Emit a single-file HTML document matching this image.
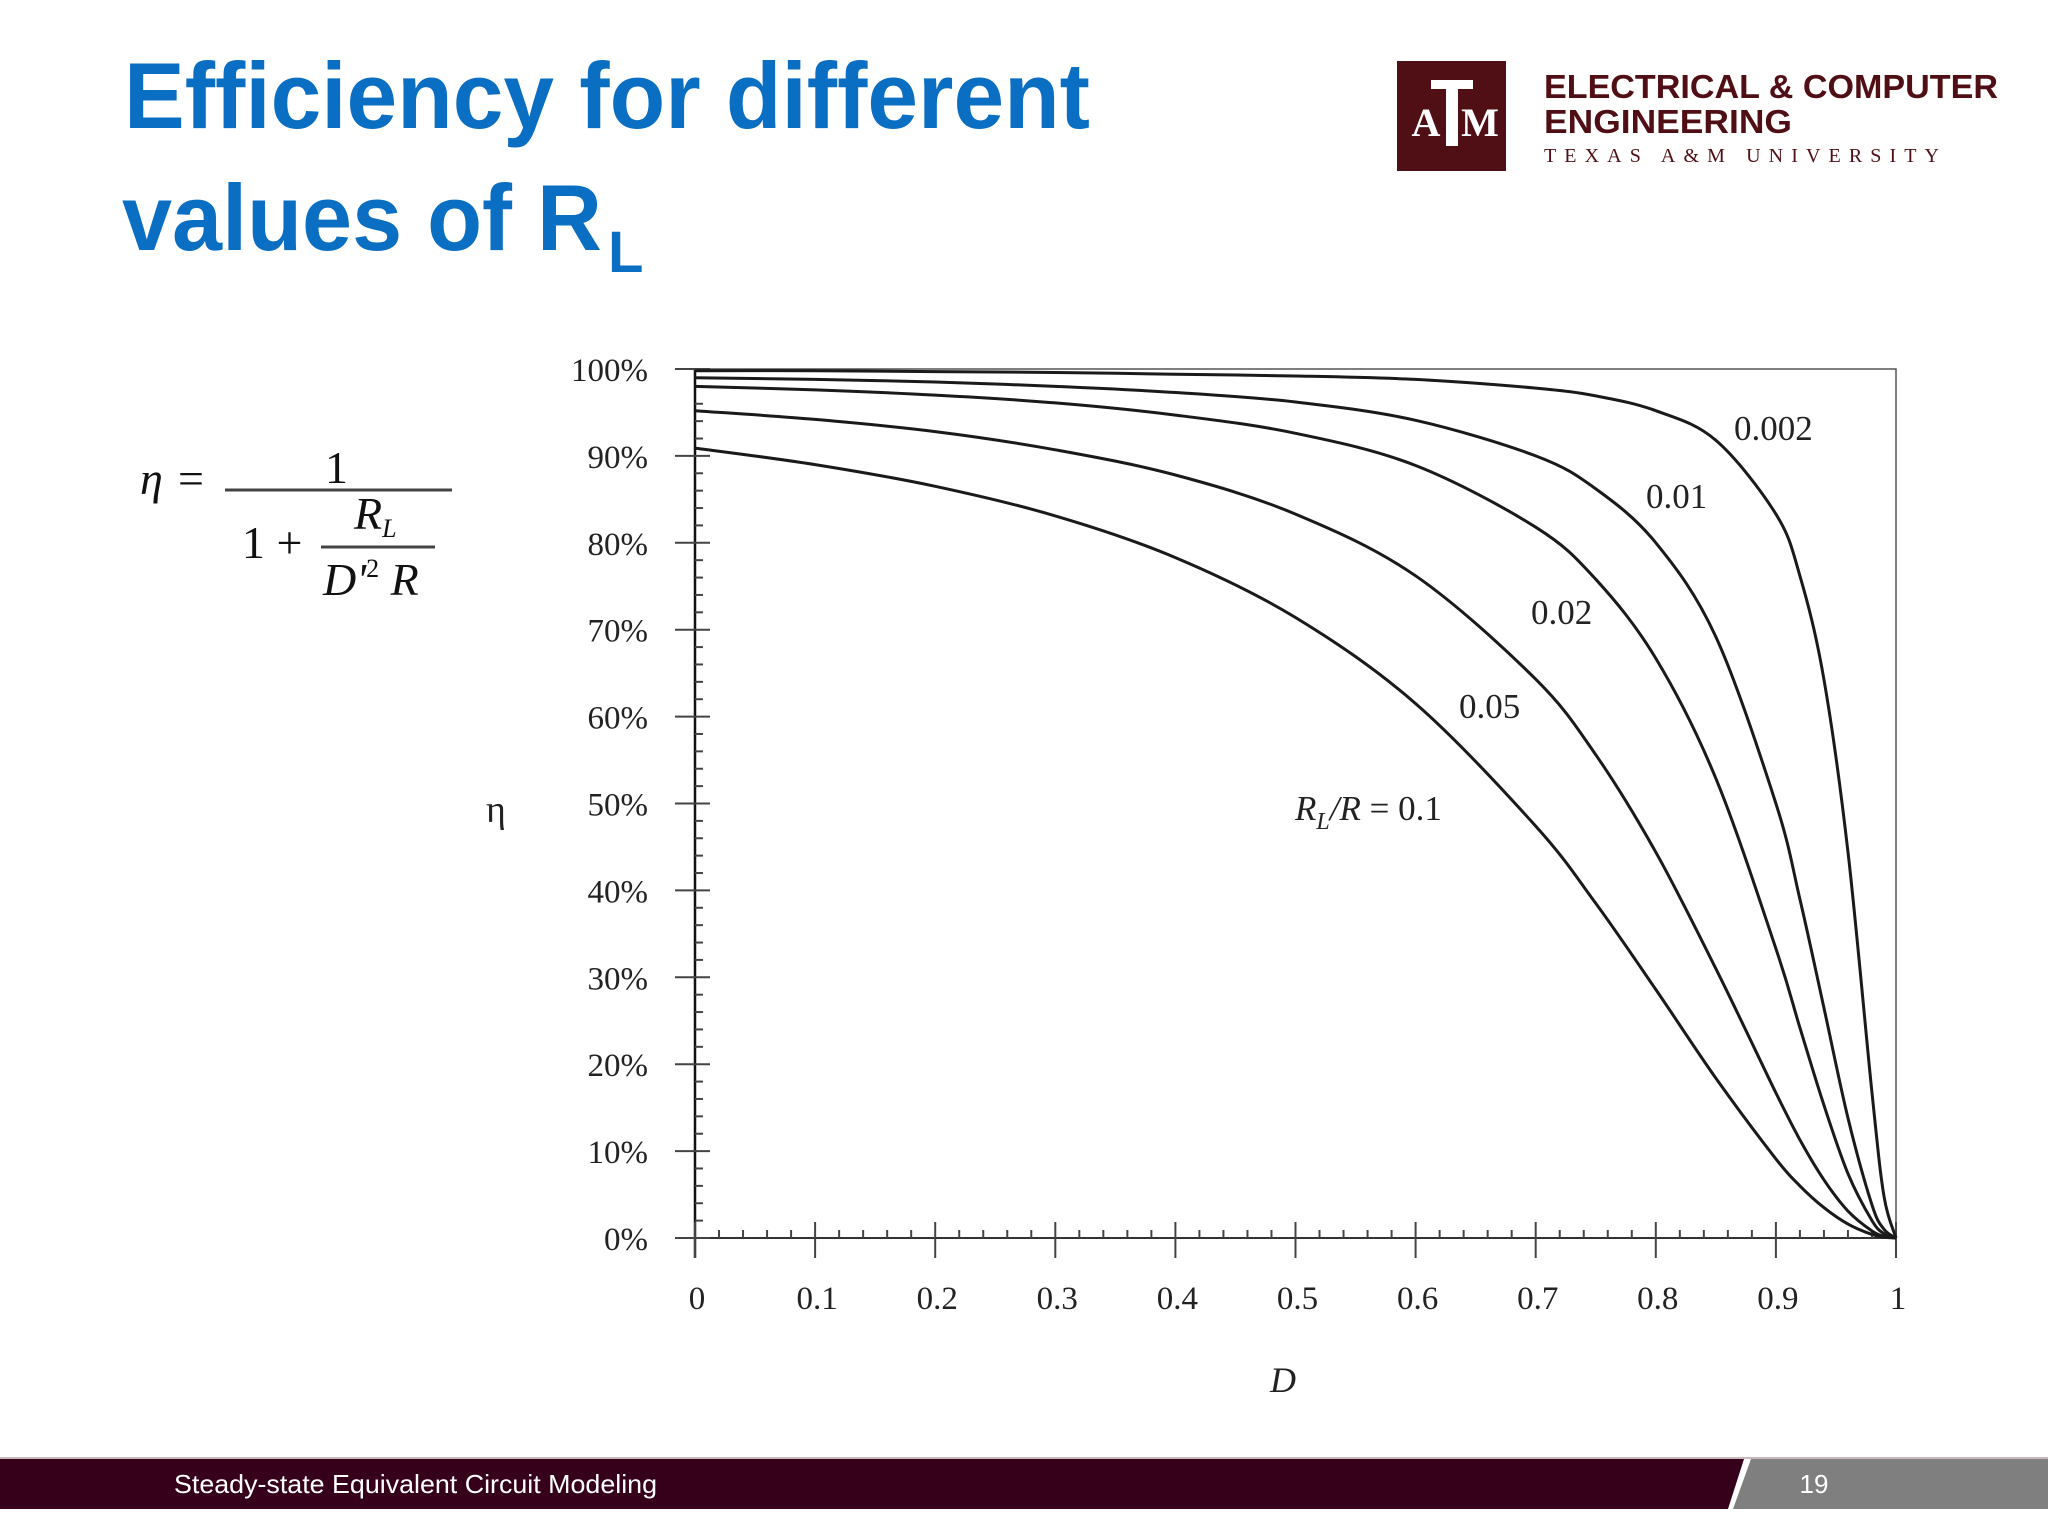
<!DOCTYPE html>
<html><head><meta charset="utf-8"><style>
html,body{margin:0;padding:0;background:#fff;}
svg{display:block;}
</style></head><body>
<svg width="2048" height="1536" viewBox="0 0 2048 1536" xmlns="http://www.w3.org/2000/svg">
<rect x="0" y="0" width="2048" height="1536" fill="#ffffff"/>
<g fill="#0a6fc2" font-family="Liberation Sans, sans-serif" font-weight="bold">
<text x="124" y="128" font-size="94" textLength="966" lengthAdjust="spacingAndGlyphs">Efficiency for different</text>
<text x="122" y="250" font-size="94" textLength="480" lengthAdjust="spacingAndGlyphs">values of R</text>
<text x="608" y="272" font-size="58">L</text>
</g>
<g>
<rect x="1397" y="61" width="109" height="110" fill="#500f15"/>
<rect x="1431" y="80" width="42" height="9" fill="#fff"/>
<rect x="1446" y="80" width="12" height="66" fill="#fff"/>
<text x="1426" y="136" font-family="Liberation Serif, serif" font-weight="bold" font-size="40" fill="#fff" text-anchor="middle">A</text>
<text x="1480" y="136" font-family="Liberation Serif, serif" font-weight="bold" font-size="40" fill="#fff" text-anchor="middle">M</text>
<g font-family="Liberation Sans, sans-serif" font-weight="bold" fill="#500f15">
<text x="1544" y="98" font-size="33" textLength="454" lengthAdjust="spacingAndGlyphs">ELECTRICAL &amp; COMPUTER</text>
<text x="1544" y="133" font-size="33" textLength="248" lengthAdjust="spacingAndGlyphs">ENGINEERING</text>
</g>
<text x="1544" y="162" font-family="Liberation Serif, serif" font-size="20" fill="#500f15" textLength="395" lengthAdjust="spacing">TEXAS A&amp;M UNIVERSITY</text>
</g>
<g font-family="Liberation Serif, serif" fill="#111" font-size="46">
<text x="140" y="494" font-style="italic">η</text>
<text x="178" y="494">=</text>
<line x1="225" y1="490" x2="452" y2="490" stroke="#444" stroke-width="3"/>
<text x="325" y="483">1</text>
<text x="242" y="558">1 +</text>
<text x="354" y="529" font-style="italic">R<tspan font-size="26" dy="8">L</tspan></text>
<line x1="321" y1="547" x2="435" y2="547" stroke="#444" stroke-width="3"/>
<text x="323" y="595" font-style="italic">D'<tspan font-style="normal" font-size="26" dy="-18">2</tspan><tspan dy="18"> R</tspan></text>
</g>
<g id="chart" font-family="Liberation Serif, serif" fill="#222"></g>
<g>
<rect x="0" y="1457" width="2048" height="2" fill="#c8b8bc"/>
<polygon points="0,1459 1744,1459 1728,1509 0,1509" fill="#36001a"/>
<polygon points="1751,1459 2048,1459 2048,1509 1733,1509" fill="#7f7f7f"/>
<text x="174" y="1493" font-family="Liberation Sans, sans-serif" font-size="26" fill="#fff" textLength="483" lengthAdjust="spacingAndGlyphs">Steady-state Equivalent Circuit Modeling</text>
<text x="1814" y="1493" font-family="Liberation Sans, sans-serif" font-size="26" fill="#fff" text-anchor="middle">19</text>
</g>
</svg>
<script>
const dValues = [0,0.1,0.2,0.3,0.4,0.5,0.6,0.7,0.75,0.8,0.85,0.9,0.92,0.94,0.96,0.98,0.99,1];
const seriesR01   = [90.9,89.0,86.5,83.1,78.3,71.4,61.5,47.4,38.5,28.6,18.4,9.1,6.0,3.5,1.6,0.4,0.1,0];
const seriesR005  = [95.2,94.2,92.8,90.7,87.8,83.3,76.2,64.3,55.6,44.4,31.0,16.7,11.3,6.7,3.1,0.8,0.2,0];
const seriesR002  = [98.0,97.6,97.0,96.1,94.7,92.6,88.9,81.8,75.8,66.7,52.9,33.3,24.2,15.3,7.4,2.0,0.5,0];
const seriesR001  = [99.0,98.8,98.5,98.0,97.3,96.2,94.1,90.0,86.2,80.0,69.2,50.0,39.0,26.5,13.8,3.8,1.0,0];
const seriesR0002 = [99.8,99.8,99.7,99.6,99.4,99.2,98.8,97.8,96.9,95.2,91.8,83.3,76.2,64.3,44.4,16.7,4.8,0];
const yTickLabels = ["0%","10%","20%","30%","40%","50%","60%","70%","80%","90%","100%"];
const xTickLabels = ["0","0.1","0.2","0.3","0.4","0.5","0.6","0.7","0.8","0.9","1"];

const NS="http://www.w3.org/2000/svg";
const g=document.getElementById('chart');
const X0=695,X1=1896,Y0=1238,Y1=369;
const xs=d=>X0+(X1-X0)*d;
const ys=v=>Y0-(Y0-Y1)*v/100;
function mk(tag,attrs,parent){const e=document.createElementNS(NS,tag);for(const k in attrs)e.setAttribute(k,attrs[k]);(parent||g).appendChild(e);return e;}

const frame=mk('rect',{x:X0,y:Y1,width:X1-X0,height:Y0-Y1,fill:'none',stroke:'#555','stroke-width':1.5});


const yAxis=mk('line',{x1:X0,y1:Y1,x2:X0,y2:Y0+20,stroke:'#111','stroke-width':2.5});


const xAxis=mk('line',{x1:X0-20,y1:Y0,x2:X1,y2:Y0,stroke:'#333','stroke-width':2});



for(let i=0;i<yTickLabels.length;i++){
  const v=i*10,y=ys(v);
  const t=mk('line',{x1:X0-20,y1:y,x2:X0+15,y2:y,stroke:'#444','stroke-width':2});
  
  
  const l=mk('text',{x:648,y:y+12,'font-size':33,'text-anchor':'end'});
  l.textContent=yTickLabels[i];
  
  
  if(i<yTickLabels.length-1){for(let k=1;k<5;k++){const yy=ys(v+k*2);
    const m=mk('line',{x1:X0,y1:yy,x2:X0+8,y2:yy,stroke:'#444','stroke-width':2});
    
    }}
}
for(let i=0;i<xTickLabels.length;i++){
  const d=i/10,x=xs(d);
  const t=mk('line',{x1:x,y1:Y0-16,x2:x,y2:Y0+20,stroke:'#444','stroke-width':2});
  
  
  const l=mk('text',{x:x+2,y:1309,'font-size':33,'text-anchor':'middle'});
  l.textContent=xTickLabels[i];
  
  
  if(i<xTickLabels.length-1){for(let k=1;k<5;k++){const xx=xs(d+k*0.02);
    const m=mk('line',{x1:xx,y1:Y0-8,x2:xx,y2:Y0,stroke:'#444','stroke-width':2});
    
    }}
}

function pathFor(vals){
  const p=dValues.map((d,i)=>[xs(d),ys(vals[i])]);
  let s='M'+p[0][0]+','+p[0][1];
  for(let i=0;i<p.length-1;i++){
    const a=p[i-1]||p[i],b=p[i],c=p[i+1],e=p[i+2]||c;
    const c1=[b[0]+(c[0]-a[0])/6,b[1]+(c[1]-a[1])/6];
    const c2=[c[0]-(e[0]-b[0])/6,c[1]-(e[1]-b[1])/6];
    s+=' C'+c1[0].toFixed(1)+','+c1[1].toFixed(1)+' '+c2[0].toFixed(1)+','+c2[1].toFixed(1)+' '+c[0].toFixed(1)+','+c[1].toFixed(1);
  }
  return s;
}
const series=[['curve-rl-0.1',seriesR01],['curve-rl-0.05',seriesR005],['curve-rl-0.02',seriesR002],['curve-rl-0.01',seriesR001],['curve-rl-0.002',seriesR0002]];
series.forEach(([n,v])=>{
  const c=mk('path',{d:pathFor(v),fill:'none',stroke:'#1a1a1a','stroke-width':3});
  
  
});

const labels=[['0.002',1734,440],['0.01',1646,508],['0.02',1531,624],['0.05',1459,718]];
labels.forEach(([t,x,y])=>{
  const l=mk('text',{x:x,y:y,'font-size':35});
  l.textContent=t;
  
  
});
const rl=mk('text',{x:1295,y:820,'font-size':35});
rl.innerHTML='<tspan font-style="italic">R</tspan><tspan font-style="italic" font-size="24" dy="9">L</tspan><tspan dy="-9" font-style="italic">/R</tspan> = 0.1';


const yt=mk('text',{x:486,y:822,'font-size':38});
yt.textContent='η';


const xt=mk('text',{x:1270,y:1392,'font-size':36,'font-style':'italic'});
xt.textContent='D';


</script>
</body></html>
